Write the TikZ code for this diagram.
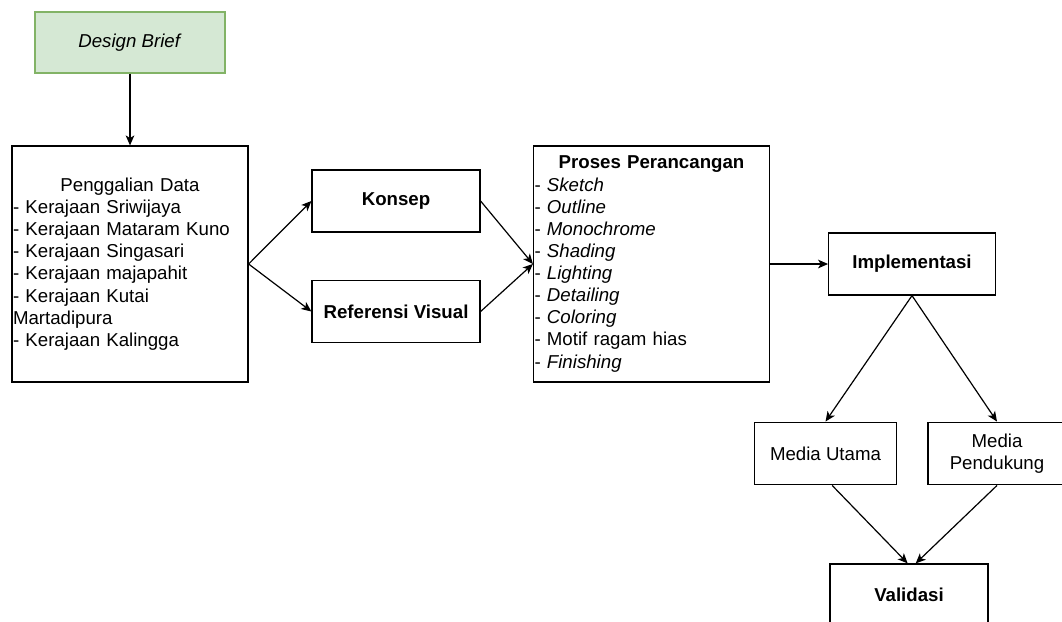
\documentclass[tikz,border=0pt]{standalone}
\usepackage{fontspec}
\setmainfont{Liberation Sans}
\usetikzlibrary{arrows.meta}
\definecolor{briefgreen}{HTML}{D5E8D4}
\definecolor{briefedge}{HTML}{82B366}
\begin{document}
\begin{tikzpicture}
[x=0.75pt, y=-0.75pt, font=\fontsize{14}{16.6}\selectfont, line width=0.9pt,
>={Stealth[length=7.5pt, width=6.5pt, inset=2pt]},
box/.style={rectangle, draw, inner xsep=0.75pt, inner ysep=0pt},
brief/.style={box, fill=briefgreen, draw=briefedge, minimum width=142.5pt, minimum height=45.75pt},
small/.style={box, minimum width=126pt, minimum height=46.5pt, align=center},
big/.style={box, minimum width=177pt, minimum height=177pt, text width=175.5pt, align=left}
]
\useasboundingbox (0,0) rectangle (1062,621);

\node[brief] (db) at (130,42.5) {\textit{Design Brief}};

\node[big] (pd) at (130,264) {\hfill Penggalian Data\hfill\null\\
- Kerajaan Sriwijaya\\
- Kerajaan Mataram Kuno\\
- Kerajaan Singasari\\
- Kerajaan majapahit\\
- Kerajaan Kutai\\
Martadipura\\
- Kerajaan Kalingga};

\node[small] (kon) at (396,201) {\textbf{Konsep}};
\node[small] (rv) at (396,311.5) {\textbf{Referensi Visual}};

\node[big] (pp) at (651.5,264) {\hfill\textbf{Proses Perancangan}\hfill\null\\
- \textit{Sketch}\\
- \textit{Outline}\\
- \textit{Monochrome}\\
- \textit{Shading}\\
- \textit{Lighting}\\
- \textit{Detailing}\\
- \textit{Coloring}\\
- Motif ragam hias\\
- \textit{Finishing}};

\node[small, minimum width=125pt] (imp) at (912,264) {\textbf{Implementasi}};

\node[small, minimum width=107pt, minimum height=47pt] (mu) at (825.5,453.5) {Media Utama};
\node[small, minimum width=103.5pt, minimum height=47pt] (mp) at (997,453.5) {Media\\Pendukung};

\node[small, minimum width=118.5pt] (val) at (909,595) {\textbf{Validasi}};

\draw[->] (db.south) -- (pd.north);
\draw[->] (pd.east) -- (kon.west);
\draw[->] (pd.east) -- (rv.west);
\draw[->] (kon.east) -- (pp.west);
\draw[->] (rv.east) -- (pp.west);
\draw[->] (pp.east) -- (imp.west);
\draw[->] (imp.south) -- (mu.north);
\draw[->] (imp.south) -- (mp.north);
\draw[->] ([xshift=5pt]mu.south) -- ([xshift=-1pt]val.north);
\draw[->] (mp.south) -- ([xshift=5pt]val.north);
\end{tikzpicture}
\end{document}
